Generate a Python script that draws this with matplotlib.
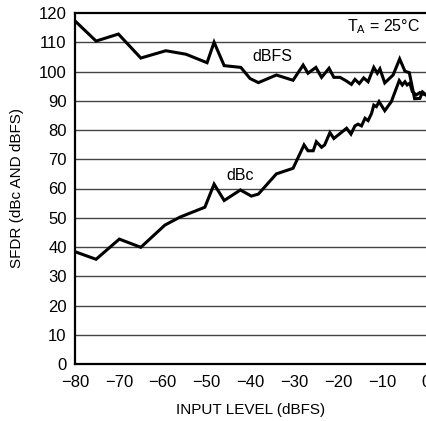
import matplotlib
matplotlib.use("Agg")
import matplotlib.pyplot as plt

plt.rcParams["font.family"] = ["Liberation Sans", "DejaVu Sans"]

# SFDR vs input level
dbfs_x = [-80, -75.2, -70.1, -65, -59.3, -54.7, -49.9, -48.3, -46, -42.2, -40.1,
          -38.2, -34.1, -30.3, -28, -26.9, -25.1, -23.8, -22.1, -21, -19.6, -18.3,
          -17, -16.2, -15.2, -14.2, -13.2, -11.9, -11.1, -10.5, -9.4, -7.5, -6,
          -4.8, -3.8, -2.6, -1.4, -0.8, 0]
dbfs_y = [117.3, 110.4, 112.8, 104.6, 107.1, 105.9, 103, 110, 102, 101.4, 97.6,
          96.2, 98.8, 97, 102.2, 99.4, 101.4, 98, 101.1, 98, 98, 96.9,
          95.6, 97.3, 95.9, 97.8, 96.5, 101.4, 99.4, 100.9, 96.1, 98.8, 104.3,
          100.1, 99.6, 90.7, 90.8, 93, 92]

dbc_x = [-80, -75.2, -69.9, -65, -59.5, -56.1, -50.4, -48.3, -46, -42.3, -39.8,
         -38.2, -34.1, -30.3, -27.8, -26.9, -25.7, -25, -23.8, -23.1, -21.9, -21,
         -18.1, -17.1, -16.2, -15.5, -14.7, -13.9, -13.2, -12.4, -11.9, -11.3,
         -10.7, -9.4, -7.9, -6.1, -5.4, -4.8, -4.3, -3.7, -3.1, -2.2, -1.4, -0.7, 0]
dbc_y = [38.4, 35.8, 42.7, 39.9, 47.5, 50.2, 53.6, 61.5, 55.9, 59.5, 57.4,
         58.1, 65, 66.9, 74.9, 72.9, 72.9, 76, 74.1, 74.9, 79.1, 77.1,
         80.6, 78.6, 81.4, 82, 81.4, 84, 83.2, 85.7, 88.5, 88,
         89.7, 86.6, 89.7, 96.9, 95.4, 96.5, 95.4, 96, 93.1, 92, 92.8, 92.3, 92]

x_ticks = list(range(-80, 1, 10))
y_ticks = list(range(0, 121, 10))

fig = plt.figure(figsize=(4.26, 4.21), dpi=100)
ax = fig.add_axes([75 / 426, 1 - 364 / 421, 1 - 75 / 426, 351 / 421])

for y in y_ticks[1:-1]:
    ax.axhline(y, color="#444444", lw=1.0, zorder=1)

ax.plot(dbfs_x, dbfs_y, color="black", lw=2.2, zorder=3, solid_joinstyle="miter")
ax.plot(dbc_x, dbc_y, color="black", lw=2.2, zorder=3, solid_joinstyle="miter")

ax.text(-35.1, 105, "dBFS", fontsize=11.5, ha="center", va="center")
ax.text(-42.4, 64.6, "dBc", fontsize=11.5, ha="center", va="center")
ax.text(-1.3, 115.2, r"T$_\mathregular{A}$ = 25°C", fontsize=11.5, ha="right", va="center")

ax.set_xlim(-80, 0)
ax.set_ylim(0, 120)
ax.set_xticks(x_ticks)
ax.set_yticks(y_ticks)
ax.tick_params(length=0, labelsize=12)
ax.tick_params(axis="x", pad=8)
ax.tick_params(axis="y", pad=6)
for side in ["left", "bottom", "top"]:
    ax.spines[side].set_linewidth(1.6)
ax.spines["right"].set_visible(False)

ax.set_xlabel("INPUT LEVEL (dBFS)", fontsize=11, labelpad=9)
ax.set_ylabel("SFDR (dBc AND dBFS)", fontsize=11, labelpad=11)

fig.savefig("out.png", dpi=100)
